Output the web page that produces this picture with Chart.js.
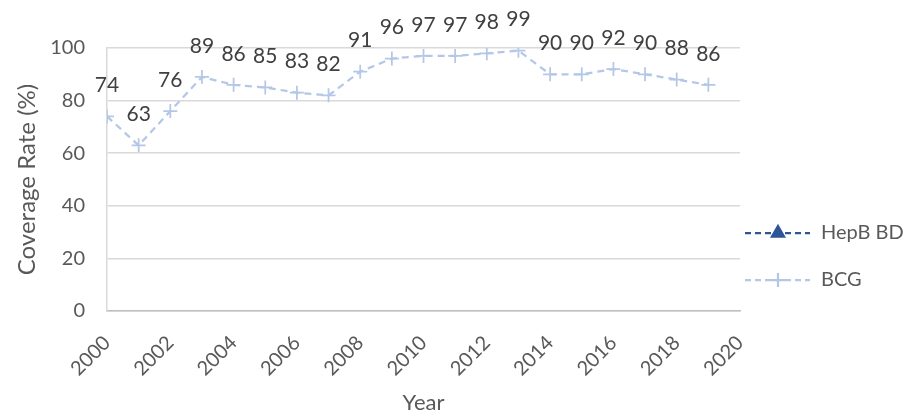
<!DOCTYPE html>
<html>
<head>
<meta charset="utf-8">
<script src="https://cdn.jsdelivr.net/npm/chart.js@4"></script>
<style>
    html, body { margin:0; padding:0; background:#fff; }
    #wrap { width:910px; height:416px; position:relative; }
</style>
</head>
<body>
<div id="wrap"><canvas id="coverageChart"></canvas></div>
<script>
const years = [2000,2001,2002,2003,2004,2005,2006,2007,2008,2009,2010,2011,2012,2013,2014,2015,2016,2017,2018,2019]
const bcgValues = [74,63,76,89,86,85,83,82,91,96,97,97,98,99,90,90,92,90,88,86]
const hepbValues = []
const yTicks = [0,20,40,60,80,100]
const xTicks = [2000,2002,2004,2006,2008,2010,2012,2014,2016,2018,2020]

const FONT = 'Lato, "Open Sans", sans-serif'
const TEXT = '#595959'

const bcgPoints = years.map((y, i) => ({ x:y, y:bcgValues[i] }))
const hepbPoints = hepbValues.map((v, i) => ({ x:years[i], y:v }))

// draws the value over every BCG point
const valueLabels = {
    id:'valueLabels',
    afterDatasetsDraw(chart) {
        const meta = chart.getDatasetMeta(1)
        const ctx = chart.ctx
        ctx.save()
        ctx.font = '21px ' + FONT
        ctx.fillStyle = '#404040'
        ctx.textAlign = 'center'
        ctx.textBaseline = 'middle'
        meta.data.forEach((pt, i) => {
            ctx.fillText(bcgValues[i], pt.x, pt.y - 31)
        })
        ctx.restore()
    }
}

// legend at the right, line + marker like the original
const sideLegend = {
    id:'sideLegend',
    afterDraw(chart) {
        const ctx = chart.ctx
        const items = [
            { label:'HepB BD', color:'#2f5597', ds:0, y:233 },
            { label:'BCG', color:'#b4c7e7', ds:1, y:280 }
        ]
        ctx.save()
        items.forEach(item => {
            ctx.strokeStyle = item.color
            ctx.lineWidth = 2.25
            ctx.setLineDash([6,4])
            ctx.beginPath()
            ctx.moveTo(745, item.y)
            ctx.lineTo(810, item.y)
            ctx.stroke()
            ctx.setLineDash([])
            const ds = chart.data.datasets[item.ds]
            Chart.helpers.drawPoint(ctx, {
                pointStyle:ds.pointStyle,
                radius:ds.pointRadius,
                borderWidth:ds.pointBorderWidth,
                rotation:0
            }, 778, item.y)
            if(item.ds === 0) { ctx.fillStyle = item.color; ctx.fill() }
            ctx.fillStyle = TEXT
            ctx.font = '20px ' + FONT
            ctx.textAlign = 'left'
            ctx.textBaseline = 'middle'
            ctx.fillText(item.label, 821, item.y)
        })
        ctx.restore()
    }
}

new Chart(document.getElementById('coverageChart'), {
    type:'line',
    data:{
        datasets:[{
            label:'HepB BD',
            data:hepbPoints,
            borderColor:'#2f5597',
            backgroundColor:'#2f5597',
            borderDash:[6,4],
            borderWidth:2.25,
            pointStyle:'triangle',
            pointRadius:7,
            pointBorderWidth:1
        }, {
            label:'BCG',
            data:bcgPoints,
            borderColor:'#b4c7e7',
            backgroundColor:'#b4c7e7',
            borderDash:[7,5],
            borderWidth:2.25,
            pointStyle:'cross',
            pointRadius:7,
            pointBorderWidth:1.75,
            tension:0
        }]
    },
    options:{
        responsive:true,
        maintainAspectRatio:false,
        animation:false,
        layout:{ padding:{ top:48, right:170, left:0, bottom:0 } },
        plugins:{
            legend:{ display:false },
            tooltip:{ enabled:false }
        },
        scales:{
            x:{
                type:'linear',
                min:2000,
                max:2020,
                afterBuildTicks(scale) { scale.ticks = xTicks.map(v => ({ value:v })) },
                afterFit(scale) { scale.height = 105 },
                ticks:{
                    color:TEXT,
                    font:{ family:FONT, size:20 },
                    maxRotation:45,
                    minRotation:45,
                    padding:12,
                    callback:v => String(v)
                },
                grid:{ display:false },
                border:{ display:true, color:'#bfbfbf', width:1.5 },
                title:{
                    display:true,
                    text:'Year',
                    color:TEXT,
                    font:{ family:FONT, size:22 },
                    padding:{ top:2, bottom:0 }
                }
            },
            y:{
                min:0,
                max:100,
                afterBuildTicks(scale) { scale.ticks = yTicks.map(v => ({ value:v })) },
                afterFit(scale) { scale.width = 107 },
                ticks:{
                    color:TEXT,
                    font:{ family:FONT, size:20 },
                    padding:22
                },
                grid:{ color:'#d9d9d9', lineWidth:1.5, drawTicks:false },
                border:{ display:true, color:'#d9d9d9', width:1.5 },
                title:{
                    display:true,
                    text:'Coverage Rate (%)',
                    color:TEXT,
                    font:{ family:FONT, size:24 },
                    padding:{ top:13, bottom:0 }
                }
            }
        }
    },
    plugins:[valueLabels, sideLegend]
})
</script>
</body>
</html>
